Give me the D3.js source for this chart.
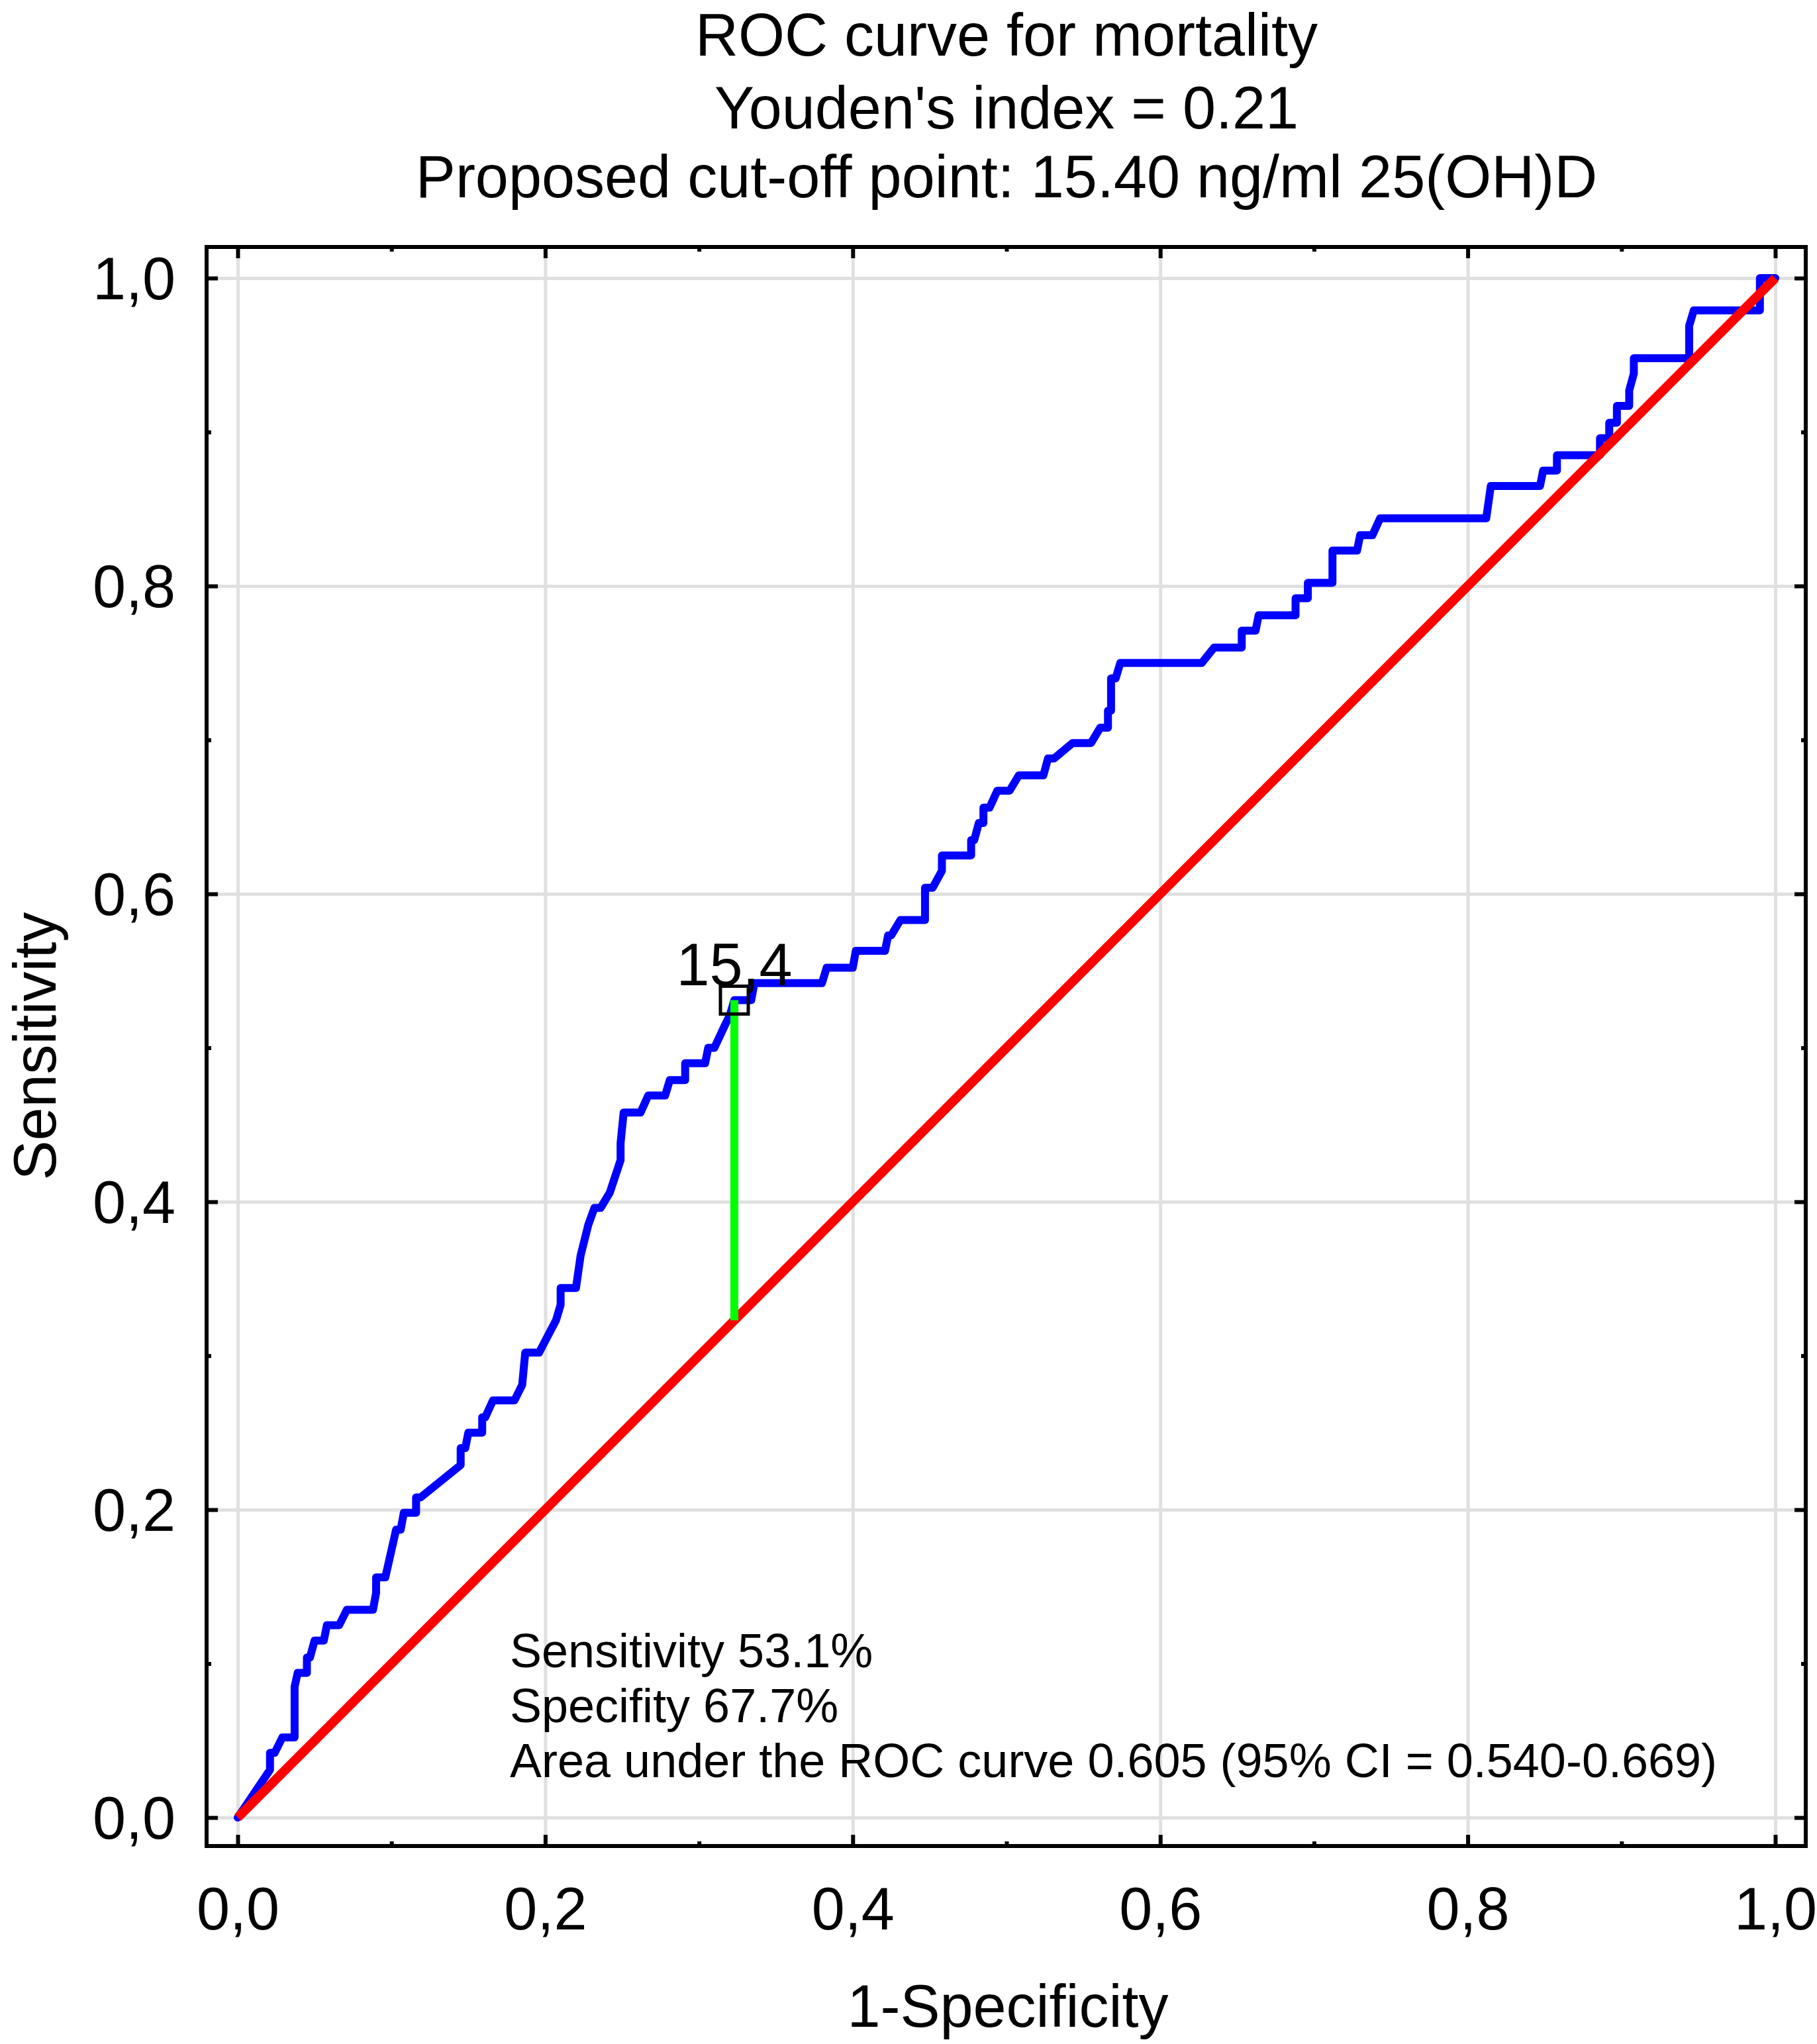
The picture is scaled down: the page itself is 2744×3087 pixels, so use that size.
<!DOCTYPE html>
<html>
<head>
<meta charset="utf-8">
<script src="https://cdn.jsdelivr.net/npm/d3@7"></script>
<style>
  html, body { margin: 0; padding: 0; background: #fff; }
  text { font-family: "Liberation Sans", Arial, sans-serif; fill: #000; }
</style>
</head>
<body>
<div id="chart"></div>
<script>
// ROC curve
const fpr = [
  0, 0.021, 0.021, 0.024, 0.029, 0.037, 0.037, 0.039, 0.045, 0.045, 0.047, 0.050,
  0.056, 0.058, 0.066, 0.071, 0.088, 0.090, 0.090, 0.096, 0.103, 0.106, 0.108,
  0.116, 0.116, 0.119, 0.145, 0.145, 0.148, 0.150, 0.159, 0.159, 0.161, 0.166,
  0.180, 0.185, 0.187, 0.196, 0.207, 0.210, 0.210, 0.220, 0.223, 0.228, 0.232,
  0.236, 0.242, 0.249, 0.249, 0.251, 0.262, 0.267, 0.278, 0.281, 0.291, 0.291,
  0.304, 0.306, 0.310, 0.317, 0.320, 0.323, 0.334, 0.336, 0.380, 0.383, 0.400,
  0.402, 0.421, 0.423, 0.425, 0.431, 0.447, 0.447, 0.452, 0.458, 0.458, 0.477,
  0.477, 0.479, 0.482, 0.485, 0.485, 0.489, 0.494, 0.502, 0.508, 0.524, 0.527,
  0.531, 0.543, 0.555, 0.561, 0.566, 0.566, 0.568, 0.568, 0.571, 0.574, 0.627,
  0.635, 0.653, 0.653, 0.662, 0.664, 0.688, 0.688, 0.696, 0.696, 0.712, 0.712,
  0.728, 0.730, 0.738, 0.743, 0.812, 0.815, 0.847, 0.849, 0.858, 0.858, 0.886,
  0.886, 0.892, 0.892, 0.897, 0.897, 0.905, 0.905, 0.908, 0.908, 0.944, 0.944,
  0.947, 0.990, 0.990, 1.000
];
const tpr = [
  0, 0.031, 0.042, 0.042, 0.052, 0.052, 0.085, 0.094, 0.094, 0.104, 0.104, 0.115,
  0.115, 0.125, 0.125, 0.135, 0.135, 0.146, 0.156, 0.156, 0.187, 0.187, 0.198,
  0.198, 0.208, 0.208, 0.229, 0.240, 0.240, 0.250, 0.250, 0.260, 0.260, 0.271,
  0.271, 0.281, 0.302, 0.302, 0.323, 0.333, 0.344, 0.344, 0.365, 0.385, 0.396,
  0.396, 0.406, 0.427, 0.438, 0.458, 0.458, 0.469, 0.469, 0.479, 0.479, 0.490,
  0.490, 0.500, 0.500, 0.515, 0.521, 0.531, 0.531, 0.542, 0.542, 0.552, 0.552,
  0.563, 0.563, 0.573, 0.573, 0.583, 0.583, 0.604, 0.604, 0.615, 0.625, 0.625,
  0.635, 0.635, 0.646, 0.646, 0.656, 0.656, 0.667, 0.667, 0.677, 0.677, 0.688,
  0.688, 0.698, 0.698, 0.708, 0.708, 0.719, 0.719, 0.740, 0.740, 0.750, 0.750,
  0.760, 0.760, 0.771, 0.771, 0.781, 0.781, 0.792, 0.792, 0.802, 0.802, 0.823,
  0.823, 0.833, 0.833, 0.844, 0.844, 0.865, 0.865, 0.875, 0.875, 0.885, 0.885,
  0.896, 0.896, 0.906, 0.906, 0.917, 0.917, 0.927, 0.938, 0.948, 0.948, 0.969,
  0.979, 0.979, 1.000, 1.000
];

// reference diagonal and the proposed cut-off
const diagonalLine = [0, 1];
const cutoff = { fpr: 0.323, tpr: 0.531, label: "15,4" };

const majorTicks = [0, 0.2, 0.4, 0.6, 0.8, 1.0];
const minorTicks = [0.1, 0.3, 0.5, 0.7, 0.9];
const tickLabels = ["0,0", "0,2", "0,4", "0,6", "0,8", "1,0"];

const titleLines = [
  "ROC curve for mortality",
  "Youden's index = 0.21",
  "Proposed cut-off point: 15.40 ng/ml 25(OH)D"
];
const notes = [
  "Sensitivity 53.1%",
  "Specifity 67.7%",
  "Area under the ROC curve 0.605 (95% CI = 0.540-0.669)"
];

const W = 2744, H = 3087;
const frame = { left: 312, right: 2727, top: 373, bottom: 2788 };

const x = d3.scaleLinear().domain([0, 1]).range([359, 2681]);
const y = d3.scaleLinear().domain([0, 1]).range([2745, 420]);

const svg = d3.select('#chart').append('svg')
  .attr('width', W)
  .attr('height', H);

// grid
const gridX = svg.append('g')
  .attr('transform', `translate(0,${frame.top})`)
  .call(d3.axisBottom(x).tickValues(majorTicks).tickSize(frame.bottom - frame.top).tickFormat(''));
const gridY = svg.append('g')
  .attr('transform', `translate(${frame.left},0)`)
  .call(d3.axisRight(y).tickValues(majorTicks).tickSize(frame.right - frame.left).tickFormat(''));
[gridX, gridY].forEach(g => {
  g.select('.domain').remove();
  g.selectAll('line').attr('stroke', '#e0e0e0').attr('stroke-width', 5);
});

// ROC curve
const line = d3.line()
  .x(i => x(fpr[i]))
  .y(i => y(tpr[i]));

svg.append('path')
  .attr('d', line(d3.range(fpr.length)))
  .attr('fill', 'none')
  .attr('stroke', '#0000ff')
  .attr('stroke-width', 12)
  .attr('stroke-linejoin', 'round')
  .attr('stroke-linecap', 'round');

// chance line
svg.append('path')
  .attr('d', d3.line().x(d => x(d)).y(d => y(d))(diagonalLine))
  .attr('fill', 'none')
  .attr('stroke', '#ff0000')
  .attr('stroke-width', 14);

// Youden distance
svg.append('line')
  .attr('x1', x(cutoff.fpr)).attr('x2', x(cutoff.fpr))
  .attr('y1', y(cutoff.fpr)).attr('y2', y(cutoff.tpr))
  .attr('stroke', '#00ff00')
  .attr('stroke-width', 12);

svg.append('rect')
  .attr('x', x(cutoff.fpr) - 21)
  .attr('y', y(cutoff.tpr) - 21)
  .attr('width', 42)
  .attr('height', 42)
  .attr('fill', 'none')
  .attr('stroke', '#000')
  .attr('stroke-width', 5);

svg.append('text')
  .attr('x', x(cutoff.fpr))
  .attr('y', y(cutoff.tpr) - 22)
  .attr('text-anchor', 'middle')
  .attr('font-size', 90)
  .text(cutoff.label);

// frame
svg.append('rect')
  .attr('x', frame.left)
  .attr('y', frame.top)
  .attr('width', frame.right - frame.left)
  .attr('height', frame.bottom - frame.top)
  .attr('fill', 'none')
  .attr('stroke', '#000')
  .attr('stroke-width', 6);

// inward ticks on all four sides
function ticks(axis, transform, values, size) {
  const g = svg.append('g')
    .attr('transform', transform)
    .call(axis.tickValues(values).tickSize(size).tickFormat(''));
  g.select('.domain').remove();
  g.selectAll('line').attr('stroke', '#000').attr('stroke-width', 6);
  return g;
}
ticks(d3.axisBottom(x), `translate(0,${frame.bottom})`, majorTicks, -17);
ticks(d3.axisBottom(x), `translate(0,${frame.bottom})`, minorTicks, -7);
ticks(d3.axisTop(x), `translate(0,${frame.top})`, majorTicks, -17);
ticks(d3.axisTop(x), `translate(0,${frame.top})`, minorTicks, -7);
ticks(d3.axisLeft(y), `translate(${frame.left},0)`, majorTicks, -17);
ticks(d3.axisLeft(y), `translate(${frame.left},0)`, minorTicks, -7);
ticks(d3.axisRight(y), `translate(${frame.right},0)`, majorTicks, -17);
ticks(d3.axisRight(y), `translate(${frame.right},0)`, minorTicks, -7);

// tick labels
const xLabels = svg.append('g')
  .attr('transform', `translate(0,${frame.bottom})`)
  .call(d3.axisBottom(x).tickValues(majorTicks).tickSize(0).tickPadding(62)
    .tickFormat((d, i) => tickLabels[i]));
const yLabels = svg.append('g')
  .attr('transform', `translate(${frame.left},0)`)
  .call(d3.axisLeft(y).tickValues(majorTicks).tickSize(0).tickPadding(47)
    .tickFormat((d, i) => tickLabels[i]));
[xLabels, yLabels].forEach(g => {
  g.select('.domain').remove();
  g.selectAll('text')
    .attr('font-size', 90)
    .attr('font-family', '"Liberation Sans", Arial, sans-serif')
    .attr('fill', '#000');
});
yLabels.selectAll('text').attr('dy', '0.35em');

// titles
svg.append('g').selectAll('text')
  .data(titleLines)
  .join('text')
  .attr('x', 1520)
  .attr('y', (d, i) => [84, 194, 298][i])
  .attr('text-anchor', 'middle')
  .attr('font-size', 90)
  .text(d => d);

svg.append('text')
  .attr('x', 1522)
  .attr('y', 3061)
  .attr('text-anchor', 'middle')
  .attr('font-size', 90)
  .text('1-Specificity');

svg.append('text')
  .attr('transform', 'translate(84,1580) rotate(-90)')
  .attr('text-anchor', 'middle')
  .attr('font-size', 90)
  .text('Sensitivity');

// summary text
svg.append('g').selectAll('text')
  .data(notes)
  .join('text')
  .attr('x', 770)
  .attr('y', (d, i) => 2518 + i * 83)
  .attr('font-size', 72)
  .text(d => d);
</script>
</body>
</html>
